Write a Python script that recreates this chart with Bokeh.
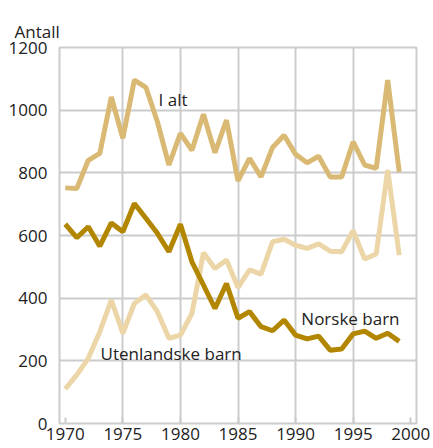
from bokeh.plotting import figure
from bokeh.models import Range1d, FixedTicker, Label, Title
from bokeh.embed import file_html
from bokeh.resources import INLINE

years = list(range(1970, 2000))
i_alt = [752, 750, 840, 862, 1042, 910, 1096, 1073, 963, 825, 926, 872, 987, 864,
         968, 774, 846, 787, 881, 920, 859, 832, 853, 787, 787, 899, 825, 814, 1096, 803]
norske = [636, 593, 628, 566, 640, 612, 702, 655, 607, 548, 636, 516, 442, 367,
          447, 336, 357, 309, 296, 330, 282, 270, 279, 234, 238, 286, 295, 272, 288, 262]
utenl = [110, 155, 208, 293, 394, 288, 383, 410, 357, 272, 282, 351, 545, 495,
         522, 434, 490, 477, 580, 588, 569, 559, 573, 550, 548, 615, 525, 541, 809, 537]
x_ticks = [1970, 1975, 1980, 1985, 1990, 1995, 2000]
y_ticks = [0, 200, 400, 600, 800, 1000, 1200]

FONT = "Open Sans"
GRID = "#cccccc"

p = figure(width=433, height=448, output_backend="svg", toolbar_location=None,
           x_range=Range1d(1969.5, 2000.5), y_range=Range1d(0, 1200),
           min_border_left=59, min_border_right=17, min_border_top=47, min_border_bottom=25)
p.frame_width = 357
p.frame_height = 376

t = Title(text="Antall", align="left", offset=-45,
          text_font=FONT, text_font_size="17px", text_font_style="normal",
          text_color="#222222")
p.add_layout(t, "above")
spacer = Title(text="x", text_font_size="7px", text_alpha=0.0)
p.add_layout(spacer, "above")

p.outline_line_color = GRID
p.outline_line_width = 2

p.xaxis.ticker = FixedTicker(ticks=x_ticks)
p.yaxis.ticker = FixedTicker(ticks=y_ticks)
p.xgrid.ticker = FixedTicker(ticks=[1975, 1980, 1985, 1990, 1995])
p.ygrid.ticker = FixedTicker(ticks=y_ticks)
for g in (p.xgrid, p.ygrid):
    g.grid_line_color = GRID
    g.grid_line_width = 2

for ax in (p.xaxis, p.yaxis):
    ax.axis_line_color = None
    ax.minor_tick_line_color = None
    ax.major_label_text_font = FONT
    ax.major_label_text_font_size = "17px"
    ax.major_label_text_color = "#222222"
p.xaxis.major_tick_line_color = GRID
p.xaxis.major_tick_line_width = 2
p.xaxis.major_tick_in = 6
p.xaxis.major_tick_out = 0
p.xaxis.major_label_standoff = 4
p.yaxis.major_tick_line_color = None
p.yaxis.major_label_standoff = 6

p.line(years, utenl, line_color="#ecd6a8", line_width=5)
p.line(years, i_alt, line_color="#d9b973", line_width=5)
p.line(years, norske, line_color="#b38600", line_width=5)

lab = dict(text_font=FONT, text_font_size="17px", text_color="#222222")
p.add_layout(Label(x=1978.1, y=1035, text="I alt", text_baseline="middle", **lab))
p.add_layout(Label(x=1973.06, y=225, text="Utenlandske barn", text_baseline="middle", **lab))
p.add_layout(Label(x=1990.5, y=336, text="Norske barn", text_baseline="middle", **lab))

open("out.html", "w").write(file_html(p, INLINE))
